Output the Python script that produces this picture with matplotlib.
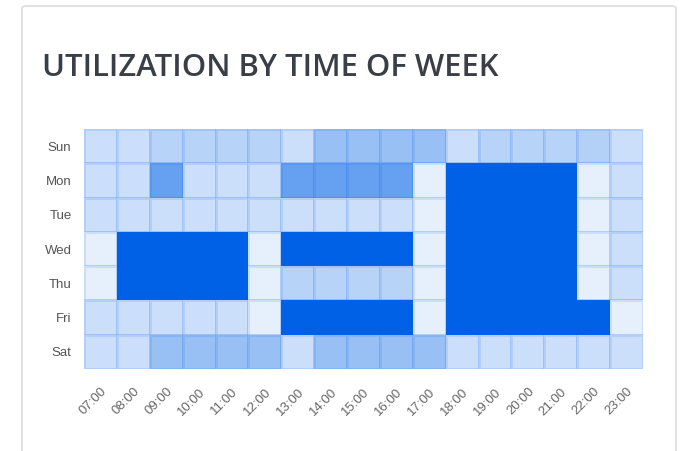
import numpy as np
import matplotlib.pyplot as plt
from matplotlib.patches import FancyBboxPatch

# utilization (%) per day and hour
days = ["Sun", "Mon", "Tue", "Wed", "Thu", "Fri", "Sat"]
hours = ["07:00", "08:00", "09:00", "10:00", "11:00", "12:00", "13:00", "14:00", "15:00",
         "16:00", "17:00", "18:00", "19:00", "20:00", "21:00", "22:00", "23:00"]

sun = [20, 20, 28, 28, 28, 28, 20, 40, 40, 40, 40, 20, 28, 28, 28, 30, 20]
mon = [20, 20, 60, 20, 20, 20, 60, 60, 60, 60, 10, 100, 100, 100, 100, 10, 20]
tue = [20, 20, 20, 20, 20, 20, 20, 20, 20, 20, 10, 100, 100, 100, 100, 10, 20]
wed = [10, 100, 100, 100, 100, 10, 100, 100, 100, 100, 10, 100, 100, 100, 100, 10, 20]
thu = [10, 100, 100, 100, 100, 10, 28, 28, 28, 28, 10, 100, 100, 100, 100, 10, 20]
fri = [20, 20, 20, 20, 20, 10, 100, 100, 100, 100, 10, 100, 100, 100, 100, 100, 10]
sat = [20, 20, 40, 40, 40, 40, 20, 40, 40, 40, 40, 20, 20, 20, 20, 20, 20]

util = np.array([sun, mon, tue, wed, thu, fri, sat]) / 100.0

blue = np.array([0.0, 0.38, 0.90])

fig = plt.figure(figsize=(6.8, 4.51), dpi=100)

# card outline
card = FancyBboxPatch((22 / 680, -0.05), 654 / 680, 1 - 6 / 451 + 0.05,
                      boxstyle="round,pad=0,rounding_size=0.006",
                      transform=fig.transFigure, facecolor="white",
                      edgecolor="#dcdcdc", linewidth=1.2, zorder=-5)
fig.patches.append(card)

fig.text(42 / 680, 1 - 76 / 451, "UTILIZATION BY TIME OF WEEK", fontsize=22.3,
         color="#3a3f47", fontfamily="Open Sans", fontweight="semibold")

ax = fig.add_axes([84 / 680, 1 - 369 / 451, 559 / 680, 240 / 451])
ax.patch.set_alpha(0)

# blend each cell onto white so the colours stay flat
rgba = np.zeros(util.shape + (4,))
for i in range(util.shape[0]):
    for j in range(util.shape[1]):
        a = util[i, j]
        rgba[i, j, :3] = 1 - a + a * blue
        rgba[i, j, 3] = 1

mesh = ax.pcolormesh(np.arange(len(hours) + 1), np.arange(len(days) + 1),
                     np.zeros(util.shape), shading="flat")
mesh.set_array(None)
mesh.set_facecolor(rgba.reshape(-1, 4))
mesh.set_edgecolor((0.0, 0.38, 0.90, 0.12))
mesh.set_linewidth(1.0)

ax.set_xlim(0, len(hours))
ax.set_ylim(len(days), 0)
ax.set_xticks(np.arange(len(hours)) + 0.5)
ax.set_xticklabels(hours, rotation=45, ha="right", rotation_mode="anchor",
                   fontsize=9.5, color="#666666", fontfamily="Liberation Sans")
ax.set_yticks(np.arange(len(days)) + 0.5)
ax.set_yticklabels(days, fontsize=9.5, color="#555555", fontfamily="Liberation Sans")
ax.tick_params(length=0, pad=9)
ax.tick_params(axis="x", pad=12)
for s in ax.spines.values():
    s.set_visible(False)

fig.savefig("out.png", dpi=100)
